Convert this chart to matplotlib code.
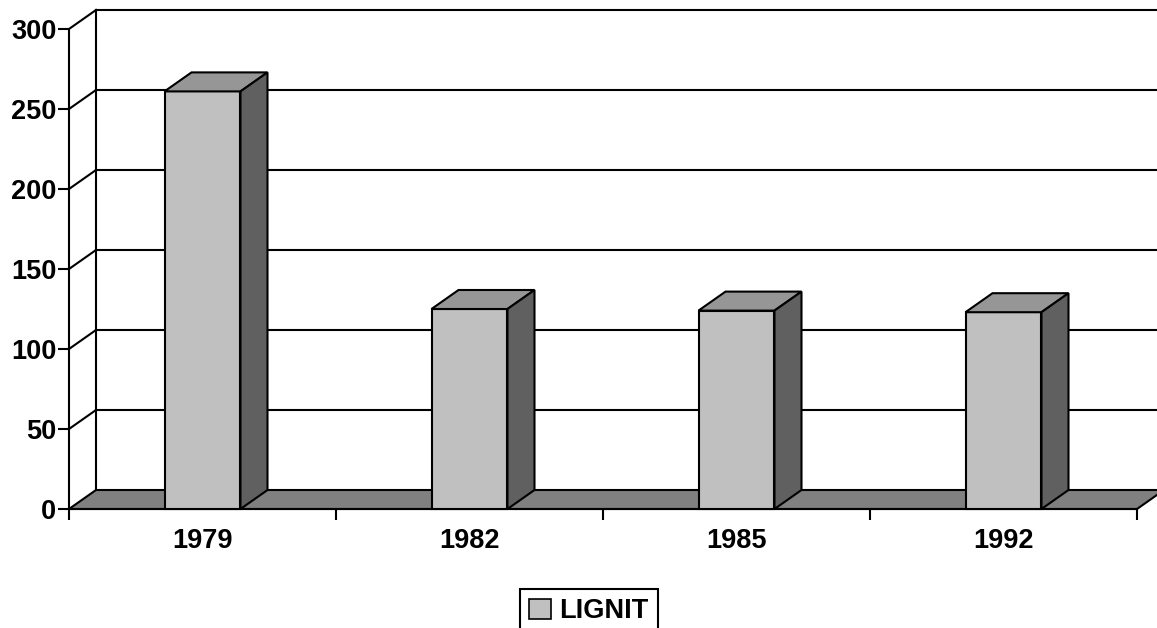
import matplotlib
matplotlib.use("Agg")
import matplotlib.pyplot as plt
from matplotlib.patches import Polygon, Patch
from matplotlib.lines import Line2D

categories = ["1979", "1982", "1985", "1992"]
values = [261, 125, 124, 123]
yticks = [0, 50, 100, 150, 200, 250, 300]
series_name = "LIGNIT"

W, H = 1157, 628
DPI = 100
plt.rcParams['font.family'] = ['Liberation Sans', 'DejaVu Sans']
plt.rcParams['font.weight'] = 'bold'

fig = plt.figure(figsize=(W / DPI, H / DPI), dpi=DPI)
# front plane of the 3D box in pixels
x0, x1 = 69, 1137
y_zero, y_top = 509, 29
ax = fig.add_axes([x0 / W, (H - y_zero) / H, (x1 - x0) / W, (y_zero - y_top) / H])
n = len(categories)
ymax = 300
ax.set_xlim(0, n)
ax.set_ylim(0, ymax)
ax.patch.set_visible(False)

# depth offset in data units
px_per_x = (x1 - x0) / n
px_per_y = (y_zero - y_top) / ymax
ddx = 27 / px_per_x
ddy = 19 / px_per_y

lw = 1.5
front_c = "#c0c0c0"
top_c = "#969696"
side_c = "#606060"
floor_c = "#808080"
fs = 19.5

# back wall and side wall gridlines
for v in yticks[1:]:
    ax.add_line(Line2D([ddx, n + ddx + 1], [v + ddy, v + ddy], color="black", lw=lw, clip_on=False, zorder=1))
    ax.add_line(Line2D([0, ddx], [v, v + ddy], color="black", lw=lw, clip_on=False, zorder=1))
ax.add_line(Line2D([ddx, ddx], [ddy, ymax + ddy], color="black", lw=lw, clip_on=False, zorder=1))

# floor
floor = Polygon([[0, 0], [n, 0], [n + ddx, ddy], [ddx, ddy]], closed=True,
                facecolor=floor_c, edgecolor="black", lw=lw, clip_on=False, zorder=2)
ax.add_patch(floor)

# bars
hw = 0.1423
for i, v in enumerate(values):
    c = i + 0.5
    l, r = c - hw, c + hw
    front = Polygon([[l, 0], [r, 0], [r, v], [l, v]], closed=True,
                    facecolor=front_c, edgecolor="black", lw=lw, clip_on=False, zorder=3)
    top = Polygon([[l, v], [r, v], [r + ddx, v + ddy], [l + ddx, v + ddy]], closed=True,
                  facecolor=top_c, edgecolor="black", lw=lw, clip_on=False, zorder=3)
    side = Polygon([[r, 0], [r + ddx, ddy], [r + ddx, v + ddy], [r, v]], closed=True,
                   facecolor=side_c, edgecolor="black", lw=lw, clip_on=False, zorder=3)
    for p in (front, top, side):
        ax.add_patch(p)

# axes
for s in ("top", "right"):
    ax.spines[s].set_visible(False)
ax.spines["left"].set_linewidth(lw)
ax.spines["left"].set_zorder(4)
ax.spines["bottom"].set_linewidth(lw)
ax.set_yticks(yticks)
ax.set_yticklabels([str(t) for t in yticks], fontsize=fs, fontweight="bold")
ax.tick_params(axis="y", direction="out", length=8, width=lw, pad=1)
ax.set_xticks(range(n + 1))
ax.set_xticklabels([""] * (n + 1))
ax.set_xticks([i + 0.5 for i in range(n)], minor=True)
ax.set_xticklabels(categories, minor=True, fontsize=fs, fontweight="bold")
ax.tick_params(axis="x", which="major", direction="out", length=8, width=lw)
ax.tick_params(axis="x", which="minor", length=0, pad=14)

# legend
handle = Patch(facecolor=front_c, edgecolor="black", lw=1.2, label=series_name)
leg = fig.legend(handles=[handle], loc="upper center",
                 bbox_to_anchor=(589 / W, 1 - 589 / H),
                 fancybox=False, framealpha=1, edgecolor="black",
                 prop={"size": fs, "weight": "bold"},
                 handlelength=0.8, handleheight=0.8, handletextpad=0.3,
                 borderpad=0.35, borderaxespad=0)
leg.get_frame().set_linewidth(lw)

fig.savefig("out.png", dpi=DPI)
